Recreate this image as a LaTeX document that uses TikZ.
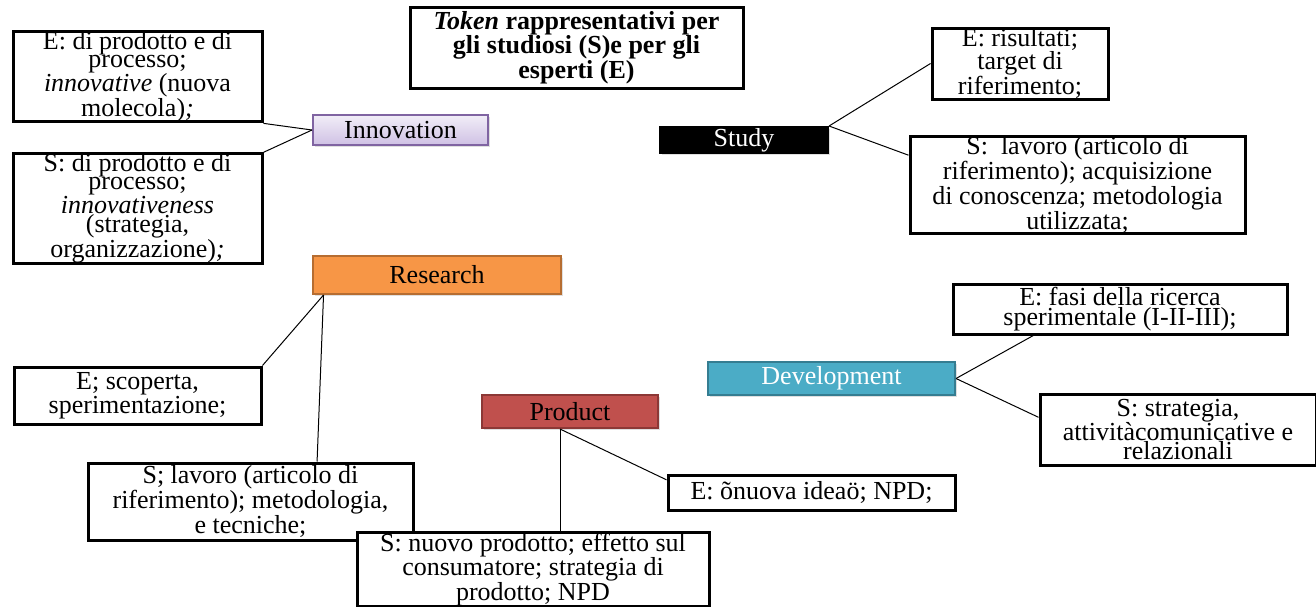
\documentclass[tikz,border=0pt]{standalone}
\usepackage{fontspec}
\setmainfont{Liberation Serif}
\usetikzlibrary{shadows}

\definecolor{innovfill}{HTML}{E4DCF0}
\definecolor{innovdark}{HTML}{CFC1E4}
\definecolor{innovdraw}{HTML}{8064A2}
\definecolor{resfill}{HTML}{F79646}
\definecolor{resdraw}{HTML}{B66D31}
\definecolor{prodfill}{HTML}{C0504D}
\definecolor{proddraw}{HTML}{8C3836}
\definecolor{devfill}{HTML}{4BACC6}
\definecolor{devdraw}{HTML}{357D91}

\begin{document}
\begin{tikzpicture}[
    x=1pt, y=-1pt,
    every node/.style={font=\fontsize{26}{18}\selectfont, inner sep=0pt},
    tokbox/.style={draw=black, line width=3pt, fill=white, align=center},
    catbox/.style={line width=2pt, align=center,
        drop shadow={opacity=0.25, shadow xshift=2pt, shadow yshift=-2pt}},
    link/.style={black, line width=1pt}
]
\useasboundingbox (0,0) rectangle (1316,606);

% --- Title ---
\node[tokbox, minimum width=333, minimum height=81, font=\fontsize{26}{18}\selectfont\bfseries]
    (title) at (576.5,47.5) {\textit{Token} rappresentativi per\\gli studiosi (S)e per gli\\esperti (E)};

% --- Innovation (top left) ---
\node[catbox, draw=innovdraw, top color=innovfill!50, bottom color=innovdark,
    minimum width=175, minimum height=30] (innov) at (400.5,130) {Innovation};
\node[tokbox, minimum width=249, minimum height=87] (einnov) at (137.5,76.5)
    {E: di prodotto e di\\processo;\\\textit{innovative} (nuova\\molecola)\textit{;}};
\node[tokbox, minimum width=249, minimum height=107] (sinnov) at (137.5,208.5)
    {S: di prodotto e di\\processo;\\\textit{innovativeness}\\(strategia,\\organizzazione)\textit{;}};

\draw[link] (innov.west) -- (einnov.south east);
\draw[link] (innov.west) -- (sinnov.north east);

% --- Study (top right) ---
\node[catbox, fill=black, draw=black, text=white,
    minimum width=168, minimum height=26] (study) at (744,140) {Study};
\node[tokbox, minimum width=176, minimum height=71] (estudy) at (1020,63.5)
    {E: risultati;\\target di\\riferimento;};
\node[tokbox, minimum width=335, minimum height=90] (sstudy) at (1077.5,185)
    {S:\ \ lavoro (articolo di\\riferimento); acquisizione\\di conoscenza; metodologia\\utilizzata;};

\draw[link] (study.north east) -- (estudy.west);
\draw[link] (study.north east) -- (sstudy.170);

% --- Research (middle left) ---
\node[catbox, fill=resfill, draw=resdraw,
    minimum width=248, minimum height=38] (research) at (437,275) {Research};
\node[tokbox, minimum width=247, minimum height=57] (eresearch) at (137.5,395.5)
    {E; scoperta,\\sperimentazione;};
\node[tokbox, minimum width=325, minimum height=77] (sresearch) at (250.5,501.5)
    {S; lavoro (articolo di\\riferimento); metodologia,\\e tecniche;};

\draw[link] (research.190) -- (eresearch.north east);
\draw[link] (research.190) -- (sresearch.31);

% --- Product (bottom middle) ---
\node[catbox, fill=prodfill, draw=proddraw,
    minimum width=176, minimum height=33] (product) at (570,411.5) {Product};
\node[tokbox, minimum width=287, minimum height=35] (eproduct) at (811.5,492.5)
    {E: õnuova ideaö; NPD;};
\node[tokbox, minimum width=352, minimum height=69] (sproduct) at (533,569.5)
    {S: nuovo prodotto; effetto sul\\consumatore; strategia di\\prodotto; NPD};

\draw[link] ([xshift=-10pt]product.south) -- ([xshift=-10pt]product.south |- sproduct.north);
\draw[link] ([xshift=-10pt]product.south) -- (eproduct.175);

% --- Development (right) ---
\node[catbox, fill=devfill, draw=devdraw, text=white,
    minimum width=247, minimum height=33] (dev) at (831.5,378.5) {Development};
\node[tokbox, minimum width=334, minimum height=50] (edev) at (1120,309)
    {E: fasi della ricerca\\sperimentale (I-II-III);};
\node[tokbox, minimum width=276, minimum height=71] (sdev) at (1178,429.5)
    {S: strategia,\\attivitàcomunicative e\\relazionali};

\draw[link] (dev.east) -- (edev.197);
\draw[link] (dev.east) -- (sdev.175);

\end{tikzpicture}
\end{document}
